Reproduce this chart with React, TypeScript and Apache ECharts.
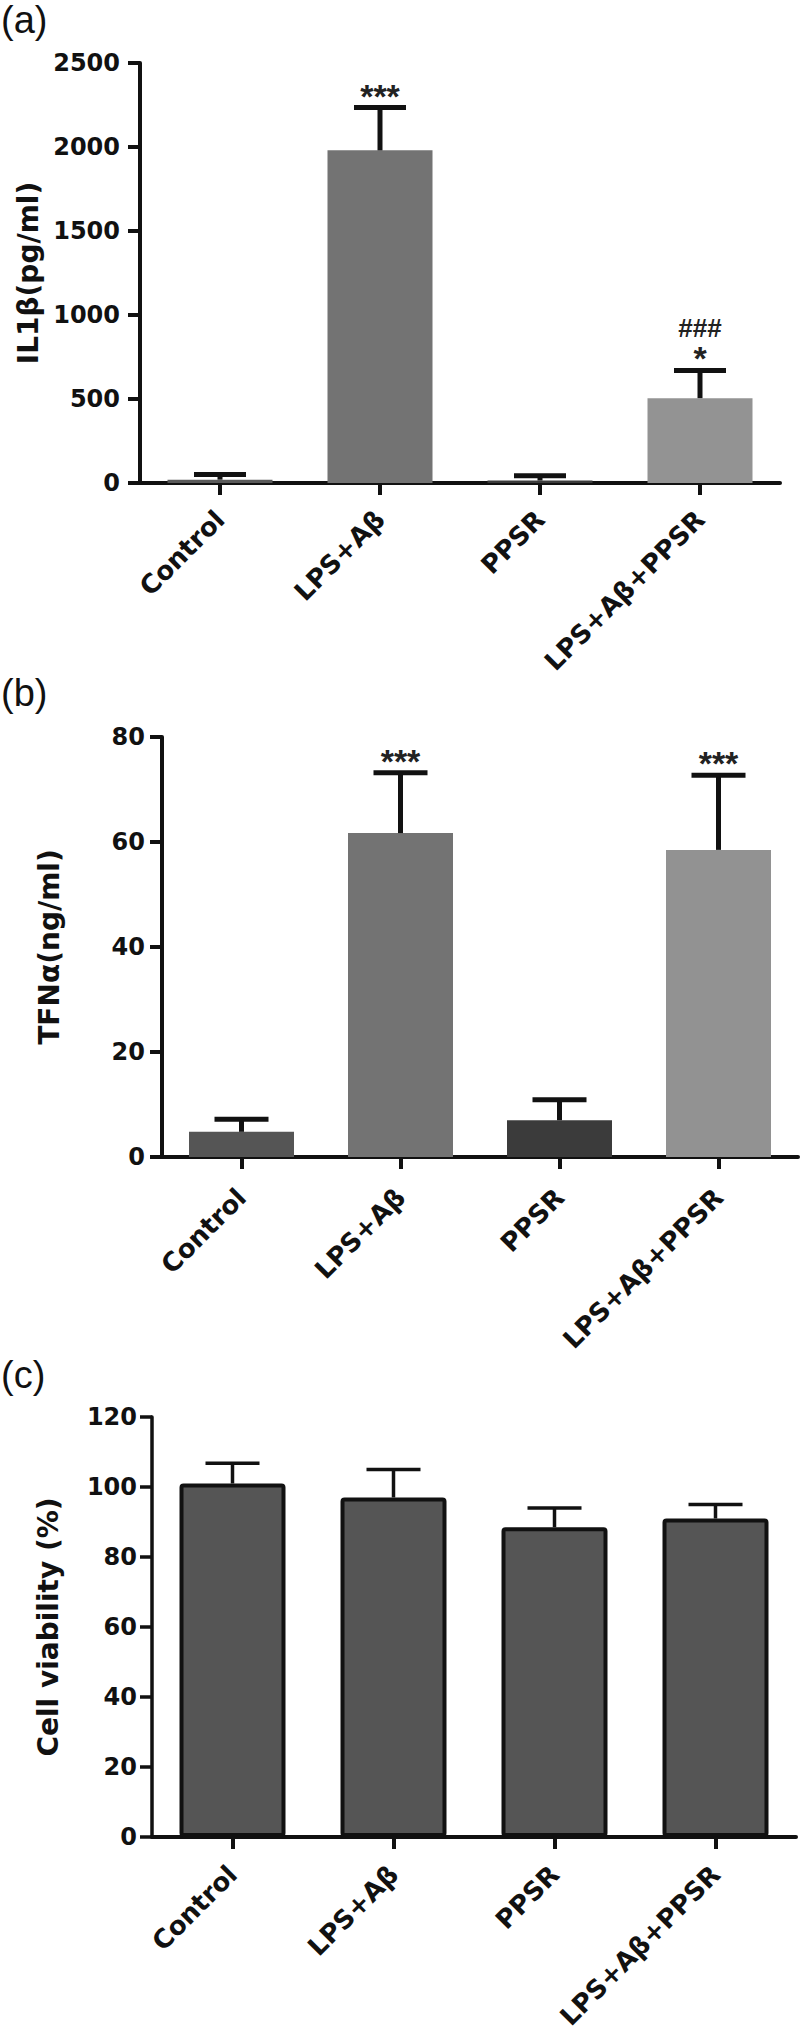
import React, { useEffect, useRef } from "react";
import * as echarts from "echarts";

const categories = ["Control", "LPS+Aβ", "PPSR", "LPS+Aβ+PPSR"];

const il1bMean = [20, 1980, 15, 505];
const il1bErr = [30, 255, 28, 165];
const il1bStars = ["", "***", "", "*"];
const il1bHash = ["", "", "", "###"];
const il1bColors = ["#5a5a5a", "#737373", "#3c3c3c", "#939393"];

const tnfMean = [4.8, 61.7, 7.0, 58.5];
const tnfErr = [2.4, 11.5, 3.9, 14.2];
const tnfStars = ["", "***", "", "***"];
const tnfHash = ["", "", "", ""];
const tnfColors = ["#555555", "#737373", "#3b3b3b", "#929292"];

const viabMean = [101, 97, 88.5, 91];
const viabErr = [5.8, 8, 5.5, 4];
const viabStars = ["", "", "", ""];
const viabHash = ["", "", "", ""];
const viabColors = ["#555555", "#555555", "#555555", "#555555"];

const FONT = "DejaVu Sans";
const INK = "#111111";

function makeErrSeries(
  idx: number,
  mean: number[],
  err: number[],
  stars: string[],
  hash: string[],
  capHalf: number,
  lw: number
) {
  return {
    type: "custom",
    xAxisIndex: idx,
    yAxisIndex: idx,
    z: 5,
    data: mean.map((m, i) => [i, m, m + err[i]]),
    encode: { x: 0, y: [1, 2] },
    renderItem: (params: any, api: any) => {
      const i = api.value(0);
      const p0 = api.coord([i, api.value(1)]);
      const p1 = api.coord([i, api.value(2)]);
      const children: any[] = [
        {
          type: "line",
          shape: { x1: p0[0], y1: p0[1], x2: p1[0], y2: p1[1] },
          style: { stroke: INK, lineWidth: lw },
        },
        {
          type: "line",
          shape: { x1: p1[0] - capHalf, y1: p1[1], x2: p1[0] + capHalf, y2: p1[1] },
          style: { stroke: INK, lineWidth: lw },
        },
      ];
      const di = params.dataIndex;
      if (stars[di]) {
        children.push({
          type: "text",
          x: p1[0],
          y: p1[1] - 12,
          style: {
            text: stars[di],
            fontFamily: "Liberation Sans",
            fontWeight: "bold",
            fontSize: 34,
            lineHeight: 22,
            align: "center",
            verticalAlign: "middle",
            fill: "#222",
          },
        });
      }
      if (hash[di]) {
        children.push({
          type: "text",
          x: p1[0],
          y: p1[1] - 42,
          style: {
            text: hash[di],
            fontFamily: "Liberation Sans",
            fontWeight: "bold",
            fontSize: 26,
            lineHeight: 22,
            align: "center",
            verticalAlign: "middle",
            fill: "#222",
          },
        });
      }
      return { type: "group", children };
    },
  };
}

function xAxisDef(idx: number, lw: number, margin: number) {
  return {
    type: "category",
    gridIndex: idx,
    data: categories,
    axisLine: { show: true, lineStyle: { color: INK, width: lw } },
    axisTick: { show: true, alignWithLabel: true, length: 12, lineStyle: { color: INK, width: lw } },
    axisLabel: {
      interval: 0,
      rotate: 45,
      margin,
      color: INK,
      fontFamily: FONT,
      fontWeight: "bold",
      fontSize: 26,
    },
    splitLine: { show: false },
  };
}

function yAxisDef(idx: number, name: string, max: number, interval: number, lw: number, margin: number, gap: number) {
  return {
    type: "value",
    gridIndex: idx,
    min: 0,
    max,
    interval,
    name,
    nameLocation: "middle",
    nameGap: gap,
    nameRotate: 90,
    nameTextStyle: { color: INK, fontFamily: FONT, fontWeight: "bold", fontSize: 28 },
    axisLine: { show: true, lineStyle: { color: INK, width: lw } },
    axisTick: { show: true, length: 12, lineStyle: { color: INK, width: lw } },
    axisLabel: {
      margin,
      color: INK,
      fontFamily: FONT,
      fontWeight: "bold",
      fontSize: 24,
      formatter: (v: number) => String(v),
    },
    splitLine: { show: false },
  };
}

function barSeries(idx: number, mean: number[], colors: string[], width: number, border: number) {
  return {
    type: "bar",
    xAxisIndex: idx,
    yAxisIndex: idx,
    barWidth: width,
    z: 2,
    data: mean.map((v, i) => ({
      value: v,
      itemStyle: {
        color: colors[i],
        borderColor: border > 0 ? INK : undefined,
        borderWidth: border,
        borderRadius: border > 0 ? 2 : 0,
      },
    })),
  };
}

export default function App() {
  const ref = useRef<HTMLDivElement>(null);
  useEffect(() => {
    document.body.style.margin = "0";
    if (!ref.current) return;
    const chart = echarts.init(ref.current, undefined, { renderer: "svg" });
    const panelLabel = (t: string, top: number) => ({
      type: "text",
      left: 1,
      top,
      style: { text: t, fontFamily: "Liberation Sans", fontSize: 38, fill: INK },
    });
    chart.setOption({
      animation: false,
      backgroundColor: "#ffffff",
      grid: [
        { left: 140, top: 63, width: 640, height: 420 },
        { left: 162, top: 737, width: 636, height: 420 },
        { left: 152, top: 1417, width: 644, height: 420 },
      ],
      xAxis: [xAxisDef(0, 4, 32), xAxisDef(1, 4, 36), xAxisDef(2, 4, 33)],
      yAxis: [
        yAxisDef(0, "IL1β(pg/ml)", 2500, 500, 4, 20, 98),
        yAxisDef(1, "TFNα(ng/ml)", 80, 20, 4, 17, 99),
        yAxisDef(2, "Cell viability (%)", 120, 20, 3.5, 15, 90),
      ],
      graphic: [panelLabel("(a)", 1), panelLabel("(b)", 674), panelLabel("(c)", 1356)],
      series: [
        barSeries(0, il1bMean, il1bColors, 105, 0),
        makeErrSeries(0, il1bMean, il1bErr, il1bStars, il1bHash, 26, 5),
        barSeries(1, tnfMean, tnfColors, 105, 0),
        makeErrSeries(1, tnfMean, tnfErr, tnfStars, tnfHash, 27, 5),
        barSeries(2, viabMean, viabColors, 106, 4),
        makeErrSeries(2, viabMean, viabErr, viabStars, viabHash, 27, 3.5),
      ],
    });
    return () => chart.dispose();
  }, []);
  return <div ref={ref} style={{ width: 800, height: 2034 }} />;
}
